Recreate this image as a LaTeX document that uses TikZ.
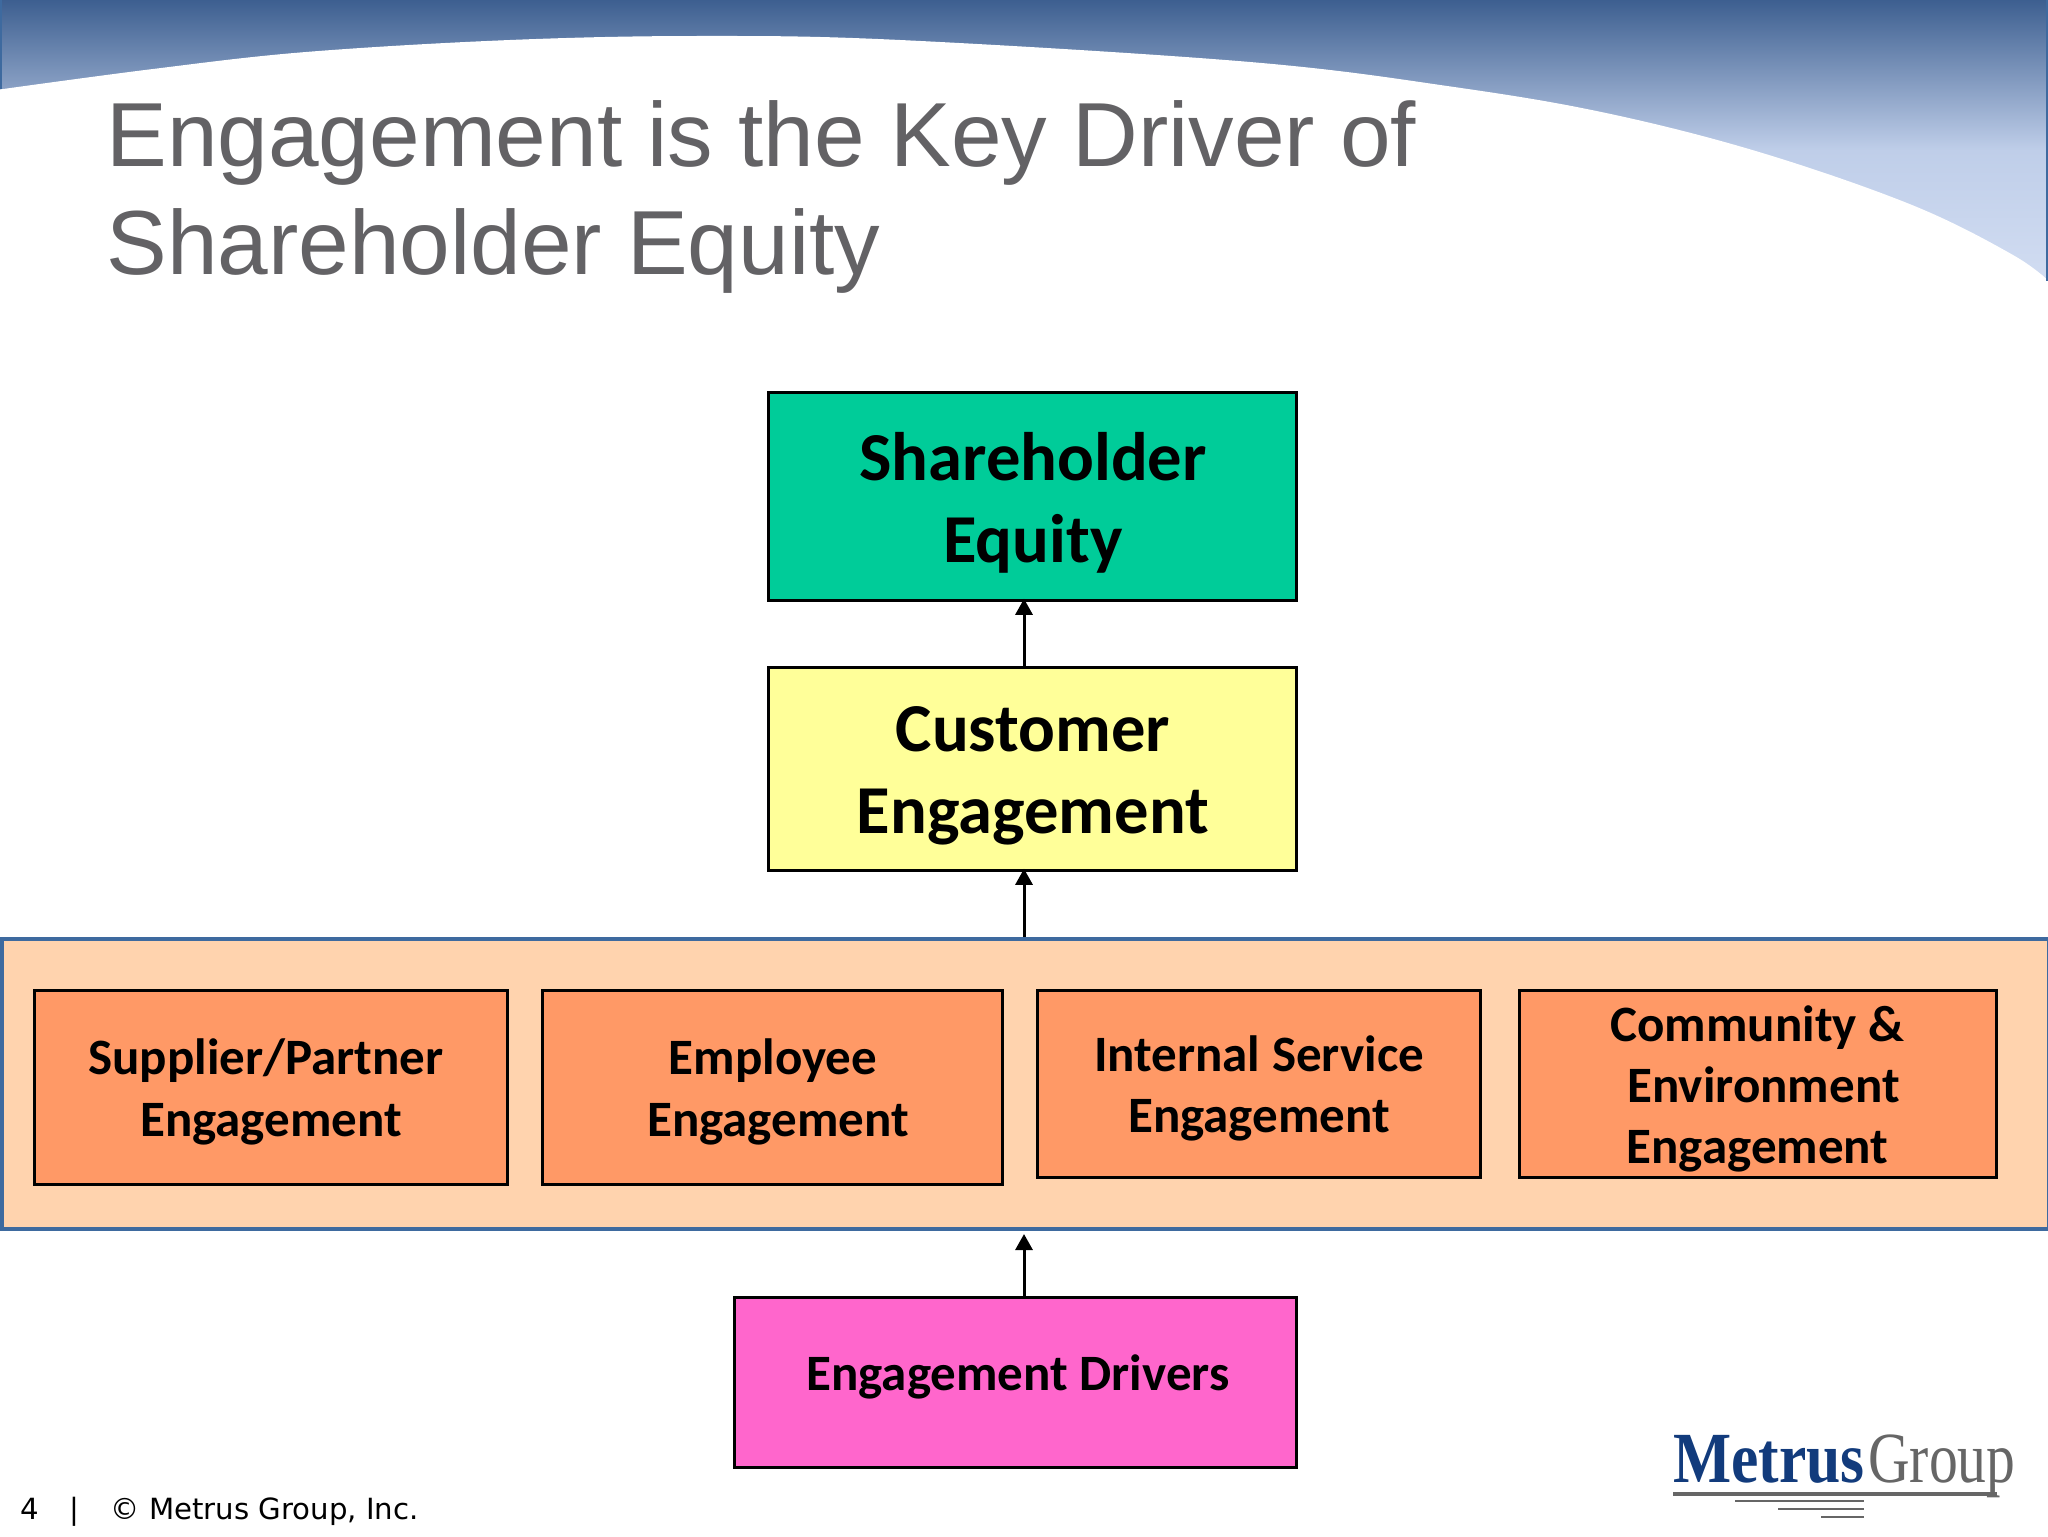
\documentclass[tikz,border=0pt]{standalone}
\usepackage{fontspec}
\usetikzlibrary{arrows.meta}
\setmainfont{Liberation Sans}
\newfontfamily\boxfont{Carlito}
\newfontfamily\footfont{DejaVu Sans}
\newfontfamily\logofont{Liberation Serif}
\definecolor{titlegray}{HTML}{636265}
\definecolor{cgreen}{HTML}{00CC99}
\definecolor{cyellow}{HTML}{FFFF99}
\definecolor{cband}{HTML}{FFD3AE}
\definecolor{corange}{HTML}{FF9966}
\definecolor{cmagenta}{HTML}{FF66CC}
\definecolor{cborder}{HTML}{3E6A9F}
\definecolor{ctop}{HTML}{3D5F90}
\definecolor{cmid}{HTML}{BFCEE9}
\definecolor{cbot}{HTML}{D2DDF2}
\definecolor{logoblue}{HTML}{123B7C}
\definecolor{logogray}{HTML}{666666}
\tikzset{
  px/.style={x=0.5pt,y=-0.5pt},
  boxshape/.style={draw=black,line width=1.4pt,inner sep=0pt,anchor=north west},
  bigtext/.style={font=\boxfont\bfseries\fontsize{34.3}{41}\selectfont,align=center,text=black,inner sep=0pt},
  midtext/.style={font=\boxfont\bfseries\fontsize{25.5}{30.7}\selectfont,align=center,text=black,inner sep=0pt},
  arr/.style={line width=1.5pt,-{Triangle[length=8pt,width=8.5pt]}},
  logorule/.style={draw=logogray,line width=1.4pt}
}
\newcommand{\boxat}[6]{\node[boxshape,fill=#2,minimum width=#5*0.5pt,minimum height=#6*0.5pt] (#1) at (#3,#4) {};}
\begin{document}
\begin{tikzpicture}[px]
\useasboundingbox (0,0) rectangle (2048,1536);
\fill[white] (0,0) rectangle (2048,1536);
% header
\shade[top color=ctop,bottom color=cmid] (0,0) rectangle (2048,150);
\shade[top color=cmid,bottom color=cbot] (0,150) rectangle (2048,285);
\fill[white] plot[smooth,tension=0.6] coordinates {(-4,90) (153,69) (306,52) (510,40) (700,36) (900,40) (1250,62) (1454,87) (1606,113) (1759,152) (1912,205) (2013,255) (2052,284)} -- (2052,300) -- (-4,300) -- cycle;
\draw[cborder,line width=1.2pt] (1,0) -- (1,89);
\draw[cborder,line width=1.2pt] (2047,0) -- (2047,281);
% title
\node[anchor=north west,inner sep=0pt,align=left,text=titlegray,font=\fontsize{45.5}{54}\selectfont] (title) at (106,100.5) {Engagement is the Key Driver of\\Shareholder Equity};
% band
\node[boxshape,draw=cborder,line width=2pt,fill=cband,minimum width=1023.5pt,minimum height=145pt] (band) at (0,937) {};
% boxes
\boxat{share}{cgreen}{767}{391}{528}{208}
\boxat{cust}{cyellow}{767}{666}{528}{203}
\boxat{supp}{corange}{33}{989}{473}{194}
\boxat{emp}{corange}{541}{989}{460}{194}
\boxat{intl}{corange}{1036}{989}{443}{187}
\boxat{comm}{corange}{1518}{989}{477}{187}
\boxat{drv}{cmagenta}{733}{1296}{562}{170}
% labels
\node[bigtext] (shareT) at (1033,502.5) {Shareholder\\Equity};
\node[bigtext] (custT) at (1033,776) {Customer\\Engagement};
\node[midtext] (suppT) at (266,1092) {Supplier/Partner\\\hspace*{5pt}Engagement};
\node[midtext] (empT) at (773,1092) {Employee\\\hspace*{5pt}Engagement};
\node[midtext] (intlT) at (1259,1088.5) {Internal Service\\Engagement};
\node[midtext] (commT) at (1757.5,1089) {Community \&\\\hspace*{6pt}Environment\\Engagement};
\node[midtext] (drvT) at (1018,1377) {Engagement Drivers};
% arrows
\coordinate (ax) at (1024,0);
\draw[arr,shorten >=-1.5pt] (cust.north -| ax) -- (share.south -| ax);
\draw[arr,shorten >=-1.5pt] (band.north -| ax) -- (cust.south -| ax);
\draw[arr,shorten >=1.5pt] (drv.north -| ax) -- (band.south -| ax);
% footer
\node[anchor=base west,inner sep=0pt,text=black,font=\footfont\fontsize{14.6}{18}\selectfont] (foot) at (20,1519) {4\hspace{15.5pt}|\hspace{15.5pt}© Metrus Group, Inc.};
% logo
\node[anchor=base west,inner sep=0pt,text=logoblue,font=\logofont\bfseries\fontsize{36}{40}\selectfont,xscale=0.855,transform shape] (logoA) at (1673,1482) {Metrus};
\node[anchor=base west,inner sep=0pt,text=logogray,font=\logofont\fontsize{36}{40}\selectfont,xscale=0.8,transform shape] (logoB) at (1868,1482) {Group};
\draw[logorule,line width=1.8pt] (1673,1494) -- (1997,1494);
\draw[logorule] (1735,1501) -- (1864,1501);
\draw[logorule] (1778,1509) -- (1864,1509);
\draw[logorule] (1821,1517) -- (1864,1517);
\end{tikzpicture}
\end{document}
